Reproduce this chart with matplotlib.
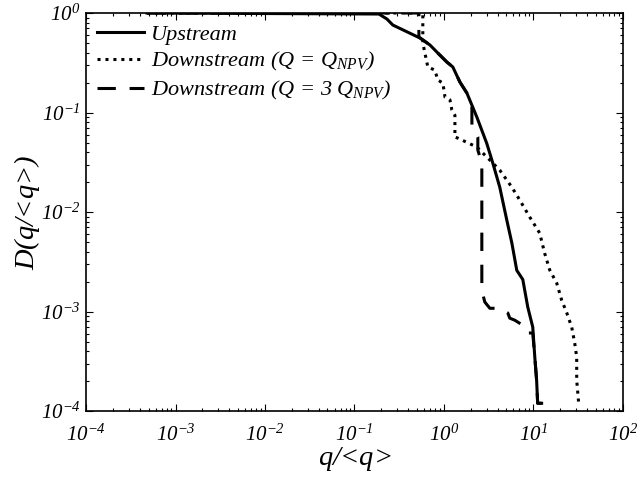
import matplotlib
matplotlib.use("Agg")
import matplotlib.pyplot as plt
from matplotlib.ticker import LogLocator, NullFormatter, FixedLocator

plt.rcParams['font.family'] = ['Liberation Serif', 'DejaVu Serif']
plt.rcParams['font.style'] = 'italic'
plt.rcParams['mathtext.fontset'] = 'custom'
plt.rcParams['mathtext.rm'] = 'Liberation Serif:italic'
plt.rcParams['mathtext.it'] = 'Liberation Serif:italic'
plt.rcParams['mathtext.bf'] = 'Liberation Serif:bold:italic'

# Upstream
up_q = [4.8e-4, 0.188, 0.231, 0.269, 0.54, 0.70, 0.857, 1.08, 1.26, 1.51, 1.81, 2.34,
        3.02, 3.53, 4.22, 5.06, 5.76, 6.54, 7.64, 8.68, 9.87, 10.4, 10.9, 11.2, 12.4]
up_D = [1.0, 0.977, 0.87, 0.757, 0.561, 0.477, 0.396, 0.322, 0.287, 0.203, 0.157, 0.090,
        0.049, 0.031, 0.0178, 0.0083, 0.0049, 0.0026, 0.0021, 0.00111, 0.0007, 0.00035,
        0.000205, 1.2e-4, 1.2e-4]

# Downstream Q = Q_NPV
d1_q = [4.8e-4, 0.582, 0.582, 0.662, 0.793, 0.857, 0.975, 1.03, 1.17, 1.23, 1.33, 1.33,
        1.43, 2.34, 3.44, 4.22, 5.76, 7.06, 9.14, 11.8, 13.4, 15.3, 18.3, 20.8, 23.7,
        26.9, 29.1, 30.6, 30.6, 32.2]
d1_D = [1.0, 1.0, 0.50, 0.287, 0.267, 0.212, 0.198, 0.143, 0.134, 0.106, 0.094, 0.0567,
        0.0554, 0.045, 0.0318, 0.0264, 0.0178, 0.0132, 0.0089, 0.00615, 0.00387, 0.00261,
        0.00193, 0.0013, 0.00097, 0.0007, 0.00048, 0.00035, 0.000205, 1.2e-4]

# Downstream Q = 3 Q_NPV
d3_q = [4.8e-4, 0.526, 0.526, 0.70, 0.857, 1.08, 1.26, 1.51, 1.81, 2.06, 2.06, 2.40, 2.40,
        2.66, 2.66, 2.87, 3.27, 4.22, 5.19, 5.46, 6.21, 7.64, 8.45, 9.87, 10.4, 10.9,
        11.2, 12.4]
d3_D = [1.0, 1.0, 0.574, 0.477, 0.396, 0.322, 0.287, 0.203, 0.157, 0.1136, 0.0749, 0.0567,
        0.042, 0.031, 0.00164, 0.00125, 0.00108, 0.00108, 0.00097, 0.00086, 0.00082,
        0.00073, 0.00061, 0.00061, 0.00035, 0.000205, 1.2e-4, 1.2e-4]

labels = ['Upstream', 'Downstream ($Q$ = $Q_{NPV}$)', 'Downstream ($Q$ = 3 $Q_{NPV}$)']
xtick_vals = [1e-4, 1e-3, 1e-2, 1e-1, 1e0, 1e1, 1e2]
xtick_labels = ['$10^{-4}$', '$10^{-3}$', '$10^{-2}$', '$10^{-1}$', '$10^{0}$', '$10^{1}$', '$10^{2}$']
ytick_vals = [1e-4, 1e-3, 1e-2, 1e-1, 1e0]
ytick_labels = ['$10^{-4}$', '$10^{-3}$', '$10^{-2}$', '$10^{-1}$', '$10^{0}$']

fig = plt.figure(figsize=(6.38, 4.82), dpi=100)
ax = fig.add_axes([0.135, 0.147, 0.841, 0.826])

ax.plot(up_q, up_D, color='black', lw=2.2, ls='-', label=labels[0])
ax.plot(d1_q, d1_D, color='black', lw=2.2, ls=(0, (1, 1.6)), label=labels[1])
ax.plot(d3_q, d3_D, color='black', lw=2.2, ls=(0, (6, 4.5)), label=labels[2])

ax.set_xscale('log')
ax.set_yscale('log')
ax.set_xlim(1e-4, 1e2)
ax.set_ylim(1e-4, 1e0)

ax.xaxis.set_major_locator(FixedLocator(xtick_vals))
ax.yaxis.set_major_locator(FixedLocator(ytick_vals))
ax.xaxis.set_minor_locator(LogLocator(base=10, subs=range(2, 10), numticks=20))
ax.yaxis.set_minor_locator(LogLocator(base=10, subs=range(2, 10), numticks=20))
ax.xaxis.set_minor_formatter(NullFormatter())
ax.yaxis.set_minor_formatter(NullFormatter())
ax.set_xticklabels(xtick_labels)
ax.set_yticklabels(ytick_labels)

ax.tick_params(which='both', direction='in', top=True, right=True, labelsize=15, width=0.8)
ax.tick_params(which='major', length=5)
ax.tick_params(axis='x', which='major', pad=10)
ax.tick_params(axis='y', which='major', pad=4)
ax.tick_params(which='minor', length=2.5)
for s in ax.spines.values():
    s.set_linewidth(1.2)

ax.set_xlabel('$q$/<$q$>', fontsize=20.5, labelpad=-1)
ax.set_ylabel('$D$($q$/<$q$>)', fontsize=20.5, labelpad=-1)

ax.legend(loc='upper left', bbox_to_anchor=(0.0, 1.0), frameon=False, fontsize=16,
          handlelength=2.1, handletextpad=0.3, labelspacing=0.25, borderaxespad=0.1)

fig.savefig('out.png', dpi=100)
